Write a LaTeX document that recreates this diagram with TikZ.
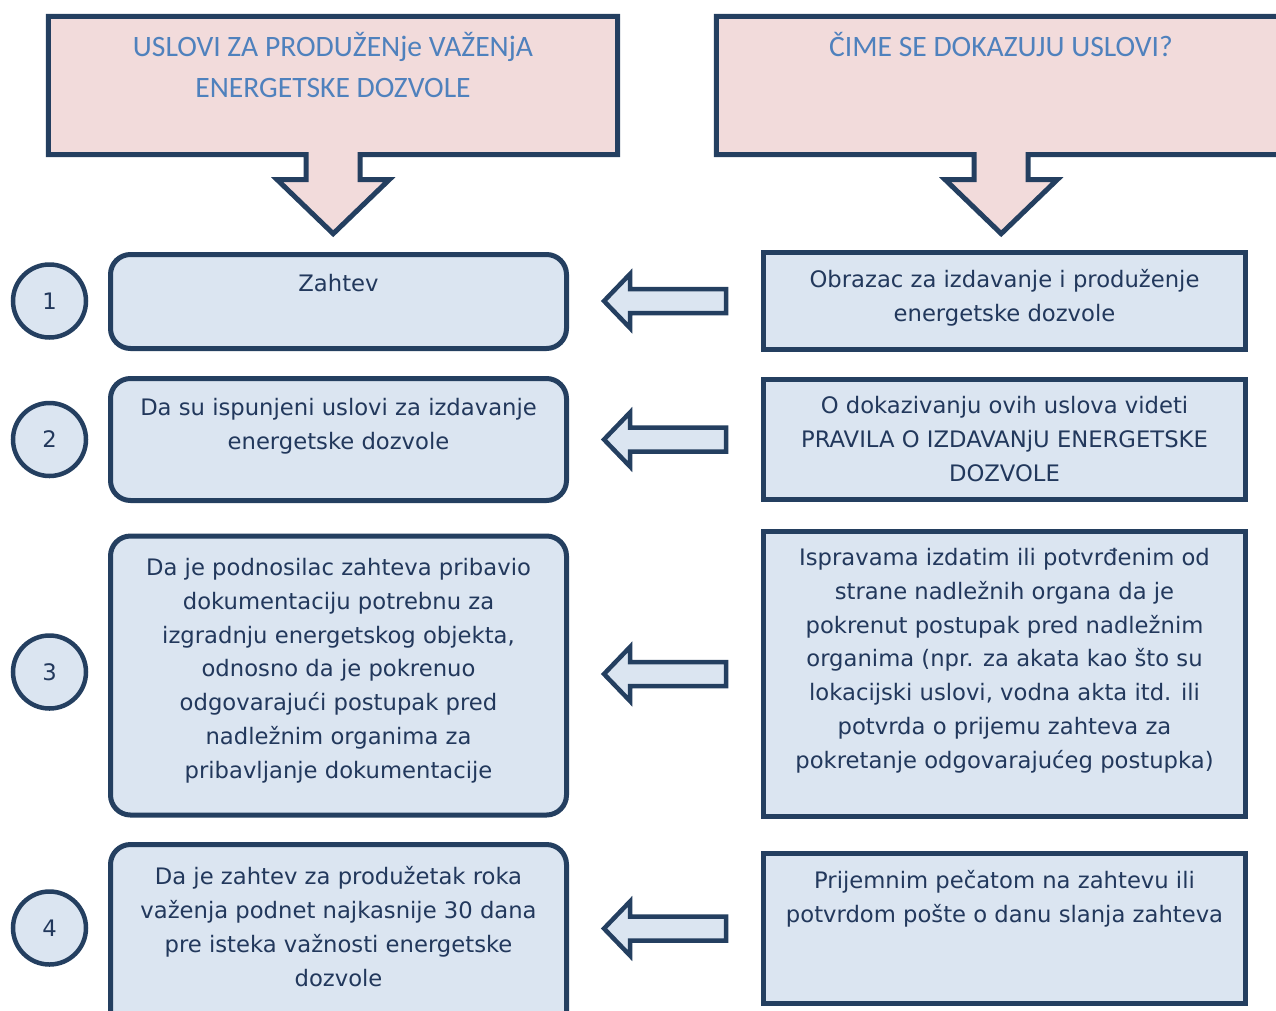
\documentclass[tikz,border=0pt]{standalone}
\usepackage{fontspec}
\setmainfont{DejaVu Sans}
\newfontfamily\headfont{Carlito}
\usepackage{tikz}
\usetikzlibrary{positioning}
\definecolor{frame}{HTML}{243F60}
\definecolor{pinkfill}{HTML}{F2DBDB}
\definecolor{bluefill}{HTML}{DBE5F1}
\definecolor{headblue}{HTML}{4F81BD}
\definecolor{navytext}{HTML}{22385C}

\begin{document}
\begin{tikzpicture}[x=1pt, y=-1pt,
	hbox/.style={minimum width=569pt, minimum height=138pt, inner sep=0pt},
	hshape/.style={draw=frame, fill=pinkfill, line width=5pt},
	htext/.style={font=\headfont\fontsize{29.6}{41}\selectfont, text=headblue, align=center, inner sep=0pt},
	lbox/.style={draw=frame, fill=bluefill, line width=5pt, rounded corners=20pt, minimum width=456pt, inner sep=0pt},
	rbox/.style={draw=frame, fill=bluefill, line width=5pt, minimum width=482pt, inner sep=0pt},
	num/.style={draw=frame, fill=bluefill, circle, line width=4.5pt, minimum size=73pt, inner sep=0pt, text=navytext, font=\fontsize{22.7}{27}\selectfont},
	btext/.style={font=\fontsize{22.7}{33.8}\selectfont, text=navytext, align=center, inner sep=0pt},
	barrow/.style={draw=frame, fill=bluefill, line width=4.5pt}]
\useasboundingbox (0,0) rectangle (1276,1010);
\clip (0,0) rectangle (1276,1010);

\node[hbox] (h1) at (333,85.5) {};
\node[hbox] (h2) at (1001,85.5) {};
\foreach \h in {h1,h2}
	\draw[hshape] (\h.north west) -- (\h.north east) -- (\h.south east) -- ++(-257.5,0) -- ++(0,25) -- ++(29,0)
		-- ++(-56,54) -- ++(-56,-54) -- ++(29,0) -- ++(0,-25) -- (\h.south west) -- cycle;
\node[htext, below=16pt of h1.north] (t1) {USLOVI ZA PRODUŽENje VAŽENjA\\ENERGETSKE DOZVOLE};
\node[htext, below=16pt of h2.north] (t2) {ČIME SE DOKAZUJU USLOVI?};

\node[num] (n1) at (49.5,301) {1};
\node[num] (n2) at (49.5,439.5) {2};
\node[num] (n3) at (49.5,672) {3};
\node[num] (n4) at (49.5,928) {4};

\node[lbox, minimum height=94pt] (l1) at (338.5,301.5) {};
\node[lbox, minimum height=122pt] (l2) at (338.5,439.5) {};
\node[lbox, minimum height=279pt] (l3) at (338.5,675.5) {};
\node[lbox, minimum height=190pt] (l4) at (338.5,939.5) {};

\node[rbox, minimum height=97pt] (r1) at (1004.5,301) {};
\node[rbox, minimum height=120pt] (r2) at (1004.5,439.5) {};
\node[rbox, minimum height=285pt] (r3) at (1004.5,674) {};
\node[rbox, minimum height=150pt] (r4) at (1004.5,928.5) {};

\foreach \r in {r1,r2,r3,r4}
	\draw[barrow] (\r.west) ++(-35,-12) -- ++(-96,0) -- ++(0,-15) -- ++(-26,27) -- ++(26,27) -- ++(0,-15) -- ++(96,0) -- cycle;

\node[btext, below=22.5pt of l1.north] (lt1) {Zahtev};
\node[btext, below=22.5pt of l2.north] (lt2) {Da su ispunjeni uslovi za izdavanje\\energetske dozvole};
\node[btext, below=24.5pt of l3.north] (lt3) {Da je podnosilac zahteva pribavio\\dokumentaciju potrebnu za\\izgradnju energetskog objekta,\\odnosno da je pokrenuo\\odgovarajući postupak pred\\nadležnim organima za\\pribavljanje dokumentacije};
\node[btext, below=24.5pt of l4.north] (lt4) {Da je zahtev za produžetak roka\\važenja podnet najkasnije 30 dana\\pre isteka važnosti energetske\\dozvole};

\node[btext, below=19pt of r1.north] (rt1) {Obrazac za izdavanje i produženje\\energetske dozvole};
\node[btext, below=19pt of r2.north] (rt2) {O dokazivanju ovih uslova videti\\PRAVILA O IZDAVANjU ENERGETSKE\\DOZVOLE};
\node[btext, below=19pt of r3.north] (rt3) {Ispravama izdatim ili potvrđenim od\\strane nadležnih organa da je\\pokrenut postupak pred nadležnim\\organima (npr. za akata kao što su\\lokacijski uslovi, vodna akta itd. ili\\potvrda o prijemu zahteva za\\pokretanje odgovarajućeg postupka)};
\node[btext, below=19pt of r4.north] (rt4) {Prijemnim pečatom na zahtevu ili\\potvrdom pošte o danu slanja zahteva};
\end{tikzpicture}
\end{document}
